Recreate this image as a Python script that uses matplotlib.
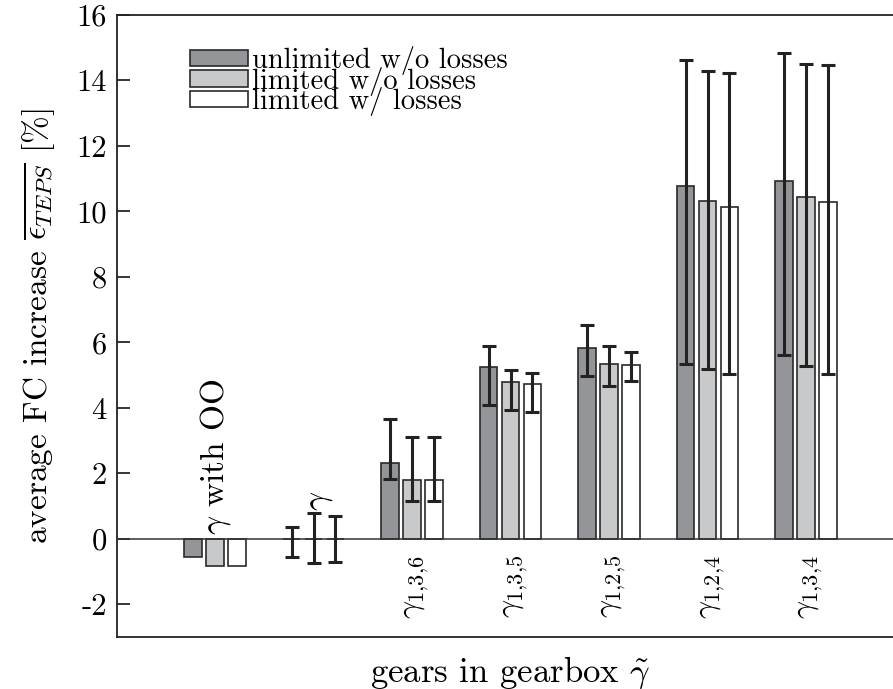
import numpy as np
import matplotlib
matplotlib.use('Agg')
import matplotlib.pyplot as plt
from matplotlib.patches import Patch

plt.rcParams['font.family'] = 'serif'
plt.rcParams['font.serif'] = ['cmr10', 'DejaVu Serif']
plt.rcParams['mathtext.fontset'] = 'cm'
plt.rcParams['axes.unicode_minus'] = False

# gearbox configurations
groups = [r'$\gamma$ with OO', r'$\gamma$', r'$\gamma_{1{,}3{,}6}$', r'$\gamma_{1{,}3{,}5}$',
          r'$\gamma_{1{,}2{,}5}$', r'$\gamma_{1{,}2{,}4}$', r'$\gamma_{1{,}3{,}4}$']
series = ['unlimited w/o losses', 'limited w/o losses', 'limited w/ losses']

# mean FC increase [%]
unlimited = [-0.55, 0.0, 2.31, 5.24, 5.84, 10.77, 10.93]
limited = [-0.82, 0.0, 1.80, 4.80, 5.35, 10.31, 10.44]
limited_losses = [-0.82, 0.0, 1.80, 4.72, 5.30, 10.14, 10.28]

# spread (lower / upper bound) per configuration
unlimited_lo = [np.nan, -0.55, 1.82, 4.09, 4.96, 5.35, 5.60]
unlimited_hi = [np.nan, 0.37, 3.65, 5.88, 6.53, 14.62, 14.83]
limited_lo = [np.nan, -0.74, 1.16, 3.93, 4.66, 5.20, 5.27]
limited_hi = [np.nan, 0.78, 3.12, 5.15, 5.90, 14.28, 14.50]
losses_lo = [np.nan, -0.72, 1.16, 3.88, 4.83, 5.03, 5.04]
losses_hi = [np.nan, 0.70, 3.12, 5.06, 5.72, 14.22, 14.47]

yticks = [-2, 0, 2, 4, 6, 8, 10, 12, 14, 16]
colors = ['#939598', '#c8c9cb', '#ffffff']

fig = plt.figure(figsize=(8.93, 6.89), dpi=100)
ax = fig.add_axes([0.1305, 0.0755, 0.8824, 0.9027])

x = np.arange(1, len(groups) + 1)
w = 0.178
off = 0.223
means = [unlimited, limited, limited_losses]
los = [unlimited_lo, limited_lo, losses_lo]
his = [unlimited_hi, limited_hi, losses_hi]

for k in range(3):
    xs = x + (k - 1) * off
    m = np.array(means[k])
    lo = np.array(los[k])
    hi = np.array(his[k])
    ax.bar(xs, m, width=w, color=colors[k], edgecolor='#2a2a2a', linewidth=1.2, zorder=2)
    ax.errorbar(xs, m, yerr=[m - lo, hi - m], fmt='none', ecolor='#222222',
                elinewidth=2.2, capsize=5, capthick=2.2, zorder=4)

ax.axhline(0, color='#333333', linewidth=1.1, zorder=3)

# group labels
ax.text(x[0], 0.12, groups[0], rotation=90, ha='center', va='bottom', fontsize=24)
ax.text(x[1] + 0.07, 0.85, groups[1], rotation=90, ha='center', va='bottom', fontsize=24)
for xi, g in zip(x[2:], groups[2:]):
    ax.text(xi + 0.05, -0.5, g, rotation=90, ha='center', va='top', fontsize=23)

ax.set_xlim(0, 8)
ax.set_ylim(-3, 16)
ax.set_xticks([])
ax.set_yticks(yticks)
ax.set_yticklabels([str(t) for t in yticks], fontsize=22)
ax.tick_params(axis='y', direction='in', length=9, width=1.1, pad=7)
for s in ax.spines.values():
    s.set_linewidth(1.3)
    s.set_color('#222222')

ax.set_ylabel(r'average FC increase $\overline{\epsilon_{TEPS}}$ [%]', fontsize=24, labelpad=14)
ax.set_xlabel(r'gears in gearbox $\tilde{\gamma}$', fontsize=25, labelpad=12)

handles = [Patch(facecolor=c, edgecolor='#2a2a2a', linewidth=1.2) for c in colors]
ax.legend(handles, series, loc='upper left', bbox_to_anchor=(0.075, 0.973), frameon=False,
          fontsize=20.5, handlelength=2.05, handleheight=0.5, handletextpad=0.12,
          labelspacing=-0.3, borderpad=0)

fig.savefig('out.png', dpi=100)
